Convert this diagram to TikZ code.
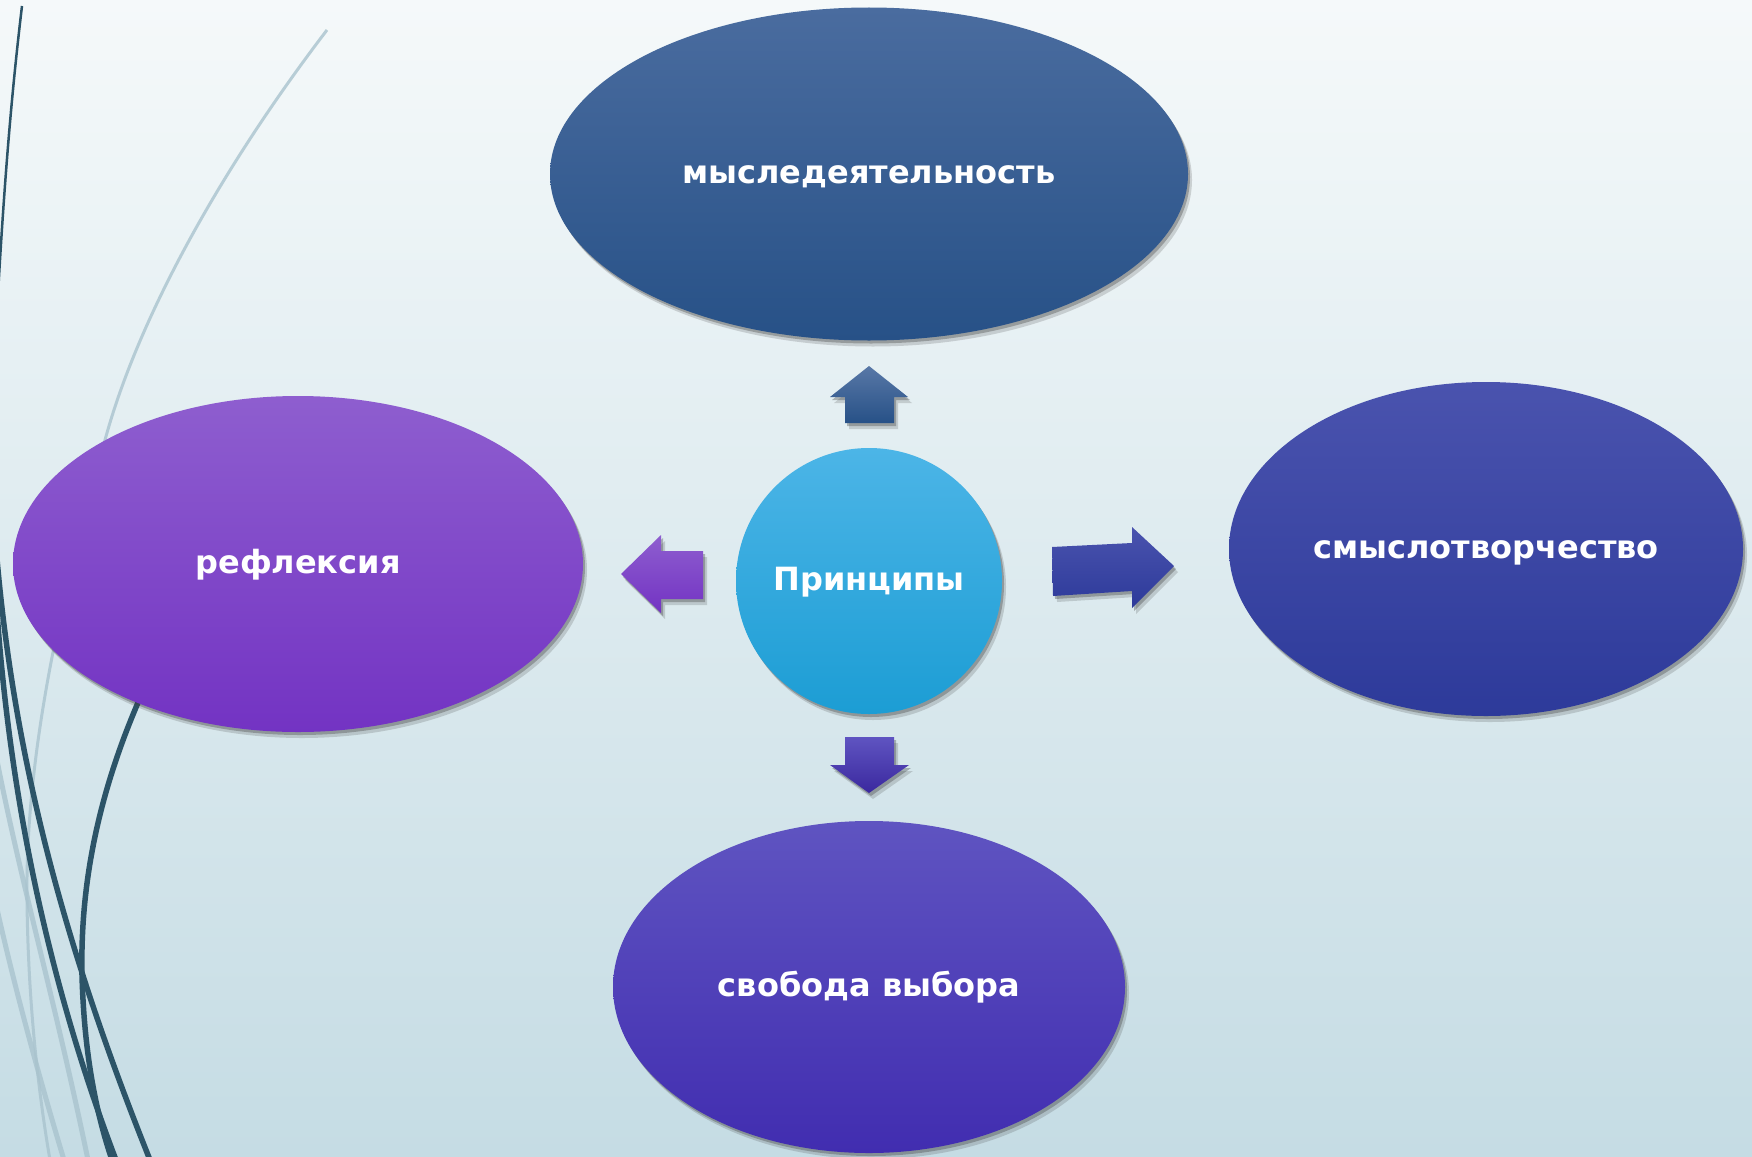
\documentclass[tikz,border=0pt]{standalone}
\usepackage{fontspec}
\setmainfont{DejaVu Sans}
\usetikzlibrary{shapes.geometric,shadows}
\definecolor{bgtop}{HTML}{F5F9FA}
\definecolor{bgbot}{HTML}{C5DCE4}
\definecolor{darkline}{HTML}{2C5468}
\definecolor{lightline}{HTML}{A9C3CE}
\definecolor{topA}{HTML}{4A6C9F}\definecolor{topB}{HTML}{275187}
\definecolor{leftA}{HTML}{8E5ECF}\definecolor{leftB}{HTML}{7333C3}
\definecolor{rightA}{HTML}{4A53AE}\definecolor{rightB}{HTML}{2D3A9A}
\definecolor{botA}{HTML}{5F54C1}\definecolor{botB}{HTML}{412DB0}
\definecolor{cenA}{HTML}{4CB5E7}\definecolor{cenB}{HTML}{1C9DD4}
\newcommand\bubblefont{\bfseries\fontsize{32}{38}\selectfont}
\begin{document}
\begin{tikzpicture}[x=1pt,y=-1pt,
  softshadow/.style={drop shadow={shadow xshift=2pt,shadow yshift=-3pt,opacity=.35,fill=black!75},
                     drop shadow={shadow xshift=4pt,shadow yshift=-6pt,opacity=.2,fill=black!75}},
  bubble/.style={ellipse,inner sep=0pt,text=white,font=\bubblefont,text height=18pt,text depth=0pt,softshadow},
  darkcurve/.style={draw=darkline,line width=5.5pt},
  lightcurve/.style={draw=lightline,line width=5pt,opacity=.8}]
\useasboundingbox (0,0) rectangle (1752,1156);
\shade[top color=bgtop,bottom color=bgbot] (0,0) rectangle (1752,1156);
% decorative curves
\draw[darkline,line width=2.5pt] (22,6) .. controls (12,90) and (4,180) .. (-4,330);
\draw[lightcurve,line width=3pt] (327,30) .. controls (220,170) and (130,330) .. (100,460)
   .. controls (60,600) and (25,760) .. (27,900) .. controls (28,1000) and (38,1090) .. (50,1160);
\draw[lightcurve] (-5,750) .. controls (20,880) and (55,1000) .. (88,1160);
\draw[lightcurve] (-5,900) .. controls (15,990) and (40,1080) .. (64,1160);
\draw[darkcurve] (-6,520) .. controls (10,760) and (70,960) .. (150,1160);
\draw[darkcurve] (-6,560) .. controls (5,800) and (55,1000) .. (116,1160);
\draw[darkcurve] (140,698) .. controls (100,790) and (80,880) .. (82,975)
   .. controls (84,1050) and (95,1110) .. (112,1160);
% principal nodes
\node[bubble,minimum width=638,minimum height=333,top color=topA,bottom color=topB] (mysl) at (869,174) {мыследеятельность};
\node[bubble,minimum width=570,minimum height=336,top color=leftA,bottom color=leftB] (refl) at (298,564) {рефлексия};
\node[bubble,minimum width=514,minimum height=334,top color=rightA,bottom color=rightB] (smysl) at (1486,549) {смыслотворчество};
\node[bubble,minimum width=512,minimum height=332,top color=botA,bottom color=botB] (svob) at (869,987) {свобода выбора};
\node[bubble,circle,minimum size=266,top color=cenA,bottom color=cenB] (princ) at (869,581) {Принципы};
% block arrows
\shade[softshadow,top color=topA!92!white,bottom color=topB]
  (869,366) -- (908,397) -- (894,397) -- (894,423) -- (845,423) -- (845,397) -- (830,397) -- cycle;
\shade[softshadow,top color=botA,bottom color=botB!90!black]
  (845,737) -- (894,737) -- (894,765) -- (909,765) -- (869,793) -- (830,765) -- (845,765) -- cycle;
\shade[softshadow,top color=leftA,bottom color=leftB]
  (621,574) -- (661,535) -- (661,551) -- (703,551) -- (703,599) -- (661,599) -- (661,613) -- cycle;
\shade[softshadow,top color=rightA,bottom color=rightB]
  (1052,547) -- (1132,543) -- (1132,527) -- (1174,566) -- (1132,608) -- (1132,591) -- (1053,596) -- cycle;
\end{tikzpicture}
\end{document}
